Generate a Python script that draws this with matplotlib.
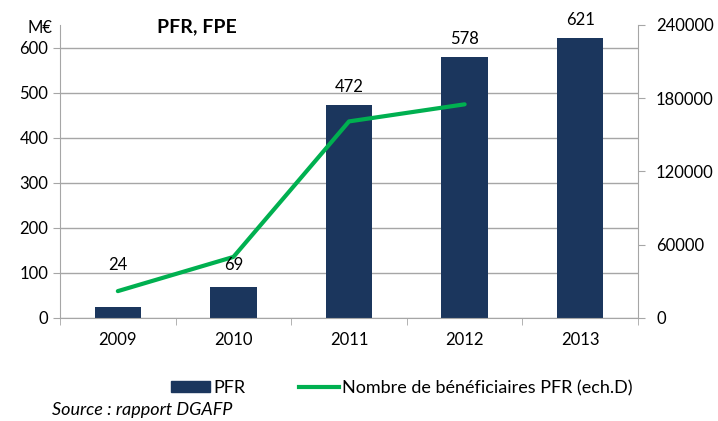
import matplotlib.pyplot as plt
import numpy as np
from matplotlib.patches import Patch
from matplotlib.lines import Line2D

plt.rcParams['font.family'] = ['Lato', 'DejaVu Sans']

years = ["2009", "2010", "2011", "2012", "2013"]
pfr = [24, 69, 472, 578, 621]
beneficiaires = [22000, 50000, 161000, 175000]

BAR = "#1b365d"
GREEN = "#00b050"
GRID = "#a6a6a6"

fig = plt.figure(figsize=(7.18, 4.21), dpi=100)
ax = fig.add_axes([0.0836, 0.2447, 0.805, 0.696])
x = np.arange(len(years))
ax.bar(x, pfr, width=0.4, color=BAR, zorder=2)
ax.set_xlim(-0.5, len(years) - 0.5)
ax.set_ylim(0, 650)
ax.set_yticks(range(0, 700, 100))
ax.yaxis.grid(True, color=GRID, lw=1)
ax.set_axisbelow(True)
ax.set_xticks(x)
ax.set_xticklabels(years, fontsize=12)
ax.tick_params(axis="x", length=0, pad=10)
# tick marks at category boundaries
ax.set_xticks(np.arange(-0.5, len(years)), minor=True)
ax.tick_params(axis="x", which="minor", length=5, color=GRID)
ax.tick_params(axis="y", labelsize=12, length=5, color=GRID)
for s in ["top", "right"]:
    ax.spines[s].set_visible(False)
ax.spines["left"].set_color(GRID)
ax.spines["bottom"].set_color(GRID)

ax2 = ax.twinx()
ax2.plot(x[:len(beneficiaires)], beneficiaires, color=GREEN, lw=3,
         solid_capstyle="round", zorder=3)
ax2.set_ylim(0, 240000)
ax2.set_yticks(range(0, 240001, 60000))
ax2.tick_params(axis="y", labelsize=12, length=5, color=GRID, pad=8)
for s in ["top", "left", "bottom"]:
    ax2.spines[s].set_visible(False)
ax2.spines["right"].set_color(GRID)

# value labels drawn above the line
for i, v in enumerate(pfr):
    ypos = v + 40 if v > 200 else 118
    ax2.text(i, ypos, str(v), ha="center", va="center", fontsize=12,
             transform=ax.transData, zorder=5)

fig.text(0.073, 0.933, "M€", fontsize=12, ha="right", va="center")
fig.text(0.219, 0.936, "PFR, FPE", fontsize=14, fontweight="bold", ha="left", va="center")

handles = [Patch(color=BAR), Line2D([0], [0], color=GREEN, lw=3)]
fig.legend(handles, ["PFR", "Nombre de bénéficiaires PFR (ech.D)"],
           loc="center", bbox_to_anchor=(0.559, 0.078), ncol=2, frameon=False,
           fontsize=13, handlelength=2.2, handleheight=0.55, handletextpad=0.15,
           columnspacing=3.0, borderpad=0)
fig.text(0.072, 0.025, "Source : rapport DGAFP", fontsize=13, style="italic",
         ha="left", va="center")

fig.savefig("out.png", dpi=100)
